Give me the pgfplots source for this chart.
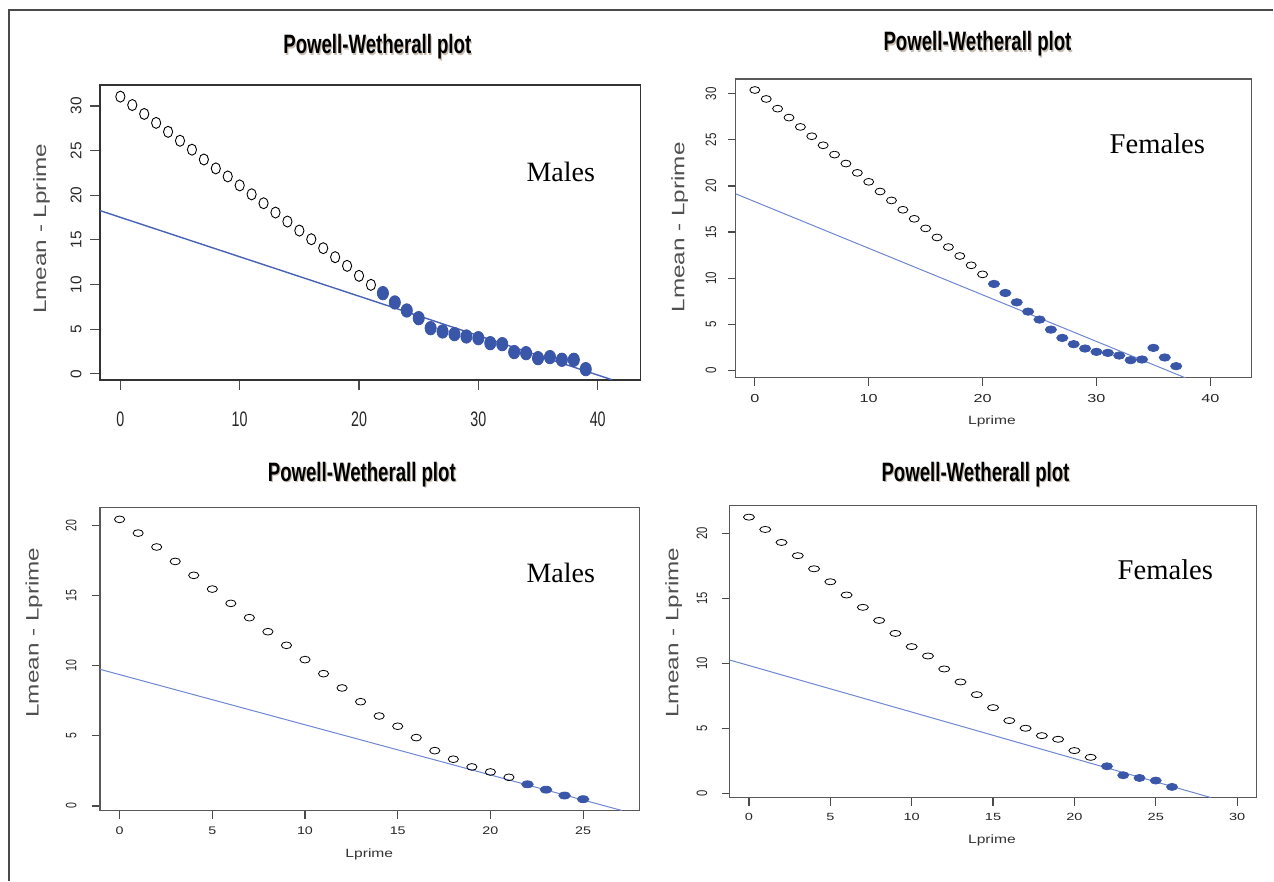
\documentclass[border=0pt]{standalone}
\usepackage{graphicx}
\usepackage{fontspec}
\setmainfont{Liberation Sans}
\newfontfamily\timesfont{Liberation Serif}
\usepackage{pgfplots}
\pgfplotsset{compat=1.18}

\definecolor{ptblue}{HTML}{3A56A8}
\definecolor{fitdark}{HTML}{4862B6}
\definecolor{fitline}{HTML}{6F86D2}
\definecolor{boxgray}{HTML}{4A4A4A}
\definecolor{labgray}{HTML}{505050}

% R-style framed panel; y tick labels run along the axis
\pgfplotsset{
  pw/.style={
    scale only axis,
    anchor=south west,
    axis line style={boxgray, line width=0.6pt},
    tick style={boxgray, line width=0.6pt},
    tick align=outside,
    tick pos=left,
    minor tick num=0,
    clip=true,
    yticklabel style={inner sep=0pt, rotate=90, anchor=south, text=black!85},
    xticklabel style={inner sep=0pt, anchor=north, text=black!85},
  },
}

\newcommand{\pwtitle}[1]{\scalebox{0.7}[1]{\fontsize{13.3}{15}\selectfont\bfseries\color{#1}Powell-Wetherall plot}}
\newcommand{\ylab}{\scalebox{1.35}[1]{\fontsize{9}{10}\selectfont Lmean - Lprime}}
\newcommand{\xlab}{\scalebox{1.3}[1]{\fontsize{6}{7}\selectfont Lprime}}

\begin{document}
\begin{tikzpicture}
\path (0pt,0pt) rectangle (637pt,440.5pt);
\draw[boxgray, line width=0.7pt] (4.5pt,0pt) -- (4.5pt,435.5pt) -- (637pt,435.5pt);

% ---------- Males, upper panel ----------
\begin{axis}[pw, at={(50pt,250.5pt)}, width=270.5pt, height=147.5pt,
  xmin=-1.71, xmax=43.6, ymin=-0.67, ymax=32.35,
  xtick={0,10,20,30,40}, ytick={0,5,10,15,20,25,30},
  major tick length=5pt,
  axis line style={black!80, line width=0.75pt},
  xticklabel={\scalebox{0.68}[1]{\fontsize{10.5}{12}\selectfont\pgfmathprintnumber[assume math mode=true]{\tick}}},
  yticklabel={\fontsize{7.7}{9}\selectfont\pgfmathprintnumber[assume math mode=true]{\tick}},
  xticklabel style={yshift=-11pt},
  yticklabel style={yshift=4pt},
]
\addplot[fitdark, line width=0.7pt] coordinates {(-1.71,18.28) (41.2,-0.67)};
\addplot[only marks, mark=o, mark size=2.3pt, mark options={black, line width=0.45pt, yscale=1.2}] coordinates {
(0,31.04) (1,30.10) (2,29.10) (3,28.10) (4,27.10) (5,26.10) (6,25.10) (7,24.00)
(8,23.00) (9,22.10) (10,21.10) (11,20.10) (12,19.10) (13,18.06) (14,17.05) (15,16.04)
(16,15.07) (17,14.07) (18,13.06) (19,12.09) (20,10.97) (21,9.96)};
\addplot[only marks, mark=*, mark size=2.8pt, mark options={ptblue, fill=ptblue, yscale=1.2}] coordinates {
(22,9.03) (23,7.99) (24,7.09) (25,6.23) (26,5.11) (27,4.74) (28,4.44) (29,4.18)
(30,3.99) (31,3.43) (32,3.32) (33,2.43) (34,2.31) (35,1.75) (36,1.87) (37,1.57)
(38,1.57) (39,0.52)};
\end{axis}

% ---------- Females, upper panel ----------
\begin{axis}[pw, at={(368pt,251.5pt)}, width=258pt, height=149.5pt,
  xmin=-1.69, xmax=43.6, ymin=-0.79, ymax=31.6,
  xtick={0,10,20,30,40}, ytick={0,5,10,15,20,25,30},
  major tick length=4pt,
  axis line style={black!65},
  xticklabel={\scalebox{1.4}[1]{\fontsize{5.8}{7}\selectfont\pgfmathprintnumber[assume math mode=true]{\tick}}},
  yticklabel={\scalebox{0.77}[1]{\fontsize{7.5}{8}\selectfont\pgfmathprintnumber[assume math mode=true]{\tick}}},
  xticklabel style={yshift=-4pt},
  yticklabel style={yshift=5.5pt},
]
\addplot[fitline, line width=0.5pt] coordinates {(-1.69,19.15) (37.8,-0.79)};
\addplot[only marks, mark=o, mark size=2.5pt, mark options={black, line width=0.4pt, yscale=0.68}] coordinates {
(0,30.40) (1,29.43) (2,28.38) (3,27.41) (4,26.40) (5,25.39) (6,24.41) (7,23.40)
(8,22.43) (9,21.42) (10,20.45) (11,19.40) (12,18.43) (13,17.42) (14,16.44) (15,15.40)
(16,14.42) (17,13.38) (18,12.41) (19,11.40) (20,10.42)};
\addplot[only marks, mark=*, mark size=2.8pt, mark options={ptblue, fill=ptblue, yscale=0.66}] coordinates {
(21,9.38) (22,8.40) (23,7.39) (24,6.38) (25,5.52) (26,4.43) (27,3.53) (28,2.85)
(29,2.38) (30,2.02) (31,1.91) (32,1.62) (33,1.12) (34,1.19) (35,2.45) (36,1.41)
(37,0.47)};
\end{axis}

% ---------- Males, lower panel ----------
\begin{axis}[pw, at={(50pt,35pt)}, width=270pt, height=151.5pt,
  xmin=-1.06, xmax=28.05, ymin=-0.33, ymax=21.26,
  xtick={0,5,10,15,20,25}, ytick={0,5,10,15,20},
  major tick length=4pt,
  axis line style={black!65},
  xticklabel={\scalebox{1.3}[1]{\fontsize{5.5}{7}\selectfont\pgfmathprintnumber[assume math mode=true]{\tick}}},
  yticklabel={\scalebox{0.7}[1]{\fontsize{7.5}{8}\selectfont\pgfmathprintnumber[assume math mode=true]{\tick}}},
  xticklabel style={yshift=-4pt},
  yticklabel style={yshift=7.5pt},
]
\addplot[fitline, line width=0.5pt] coordinates {(-1.06,9.74) (27.1,-0.33)};
\addplot[only marks, mark=o, mark size=2.55pt, mark options={black, line width=0.4pt, yscale=0.66}] coordinates {
(0,20.43) (1,19.45) (2,18.46) (3,17.43) (4,16.44) (5,15.46) (6,14.44) (7,13.42)
(8,12.42) (9,11.45) (10,10.43) (11,9.43) (12,8.41) (13,7.43) (14,6.41) (15,5.68)
(16,4.87) (17,3.94) (18,3.33) (19,2.78) (20,2.42) (21,2.04)};
\addplot[only marks, mark=*, mark size=2.9pt, mark options={ptblue, fill=ptblue, yscale=0.6}] coordinates {
(22,1.54) (23,1.16) (24,0.74) (25,0.48)};
\end{axis}

% ---------- Females, lower panel ----------
\begin{axis}[pw, at={(365pt,41.5pt)}, width=263.5pt, height=146pt,
  xmin=-1.19, xmax=31.18, ymin=-0.33, ymax=22.16,
  xtick={0,5,10,15,20,25,30}, ytick={0,5,10,15,20},
  major tick length=4pt,
  axis line style={black!65},
  xticklabel={\scalebox{1.4}[1]{\fontsize{5.2}{7}\selectfont\pgfmathprintnumber[assume math mode=true]{\tick}}},
  yticklabel={\scalebox{0.75}[1]{\fontsize{7.5}{8}\selectfont\pgfmathprintnumber[assume math mode=true]{\tick}}},
  xticklabel style={yshift=-3.5pt},
  yticklabel style={yshift=7pt},
]
\addplot[fitline, line width=0.5pt] coordinates {(-1.19,10.27) (28.38,-0.33)};
\addplot[only marks, mark=o, mark size=2.75pt, mark options={black, line width=0.4pt, yscale=0.55}] coordinates {
(0,21.28) (1,20.33) (2,19.33) (3,18.31) (4,17.30) (5,16.30) (6,15.28) (7,14.33)
(8,13.32) (9,12.32) (10,11.30) (11,10.58) (12,9.58) (13,8.58) (14,7.60) (15,6.60)
(16,5.60) (17,5.01) (18,4.44) (19,4.16) (20,3.29) (21,2.77)};
\addplot[only marks, mark=*, mark size=2.75pt, mark options={ptblue, fill=ptblue, yscale=0.64}] coordinates {
(22,2.08) (23,1.39) (24,1.18) (25,0.98) (26,0.49)};
\end{axis}

% titles (with soft shadow)
\foreach \tx/\ty in {188.75/413.5, 489/415, 181/199.5, 488/199.5}{
  \node[anchor=base, opacity=0.35] at (\tx pt+0.6pt, \ty pt-0.6pt) {\pwtitle{brown!50!black}};
  \node[anchor=base] at (\tx pt, \ty pt) {\pwtitle{black}};
}

% axis titles
\node[rotate=90, text=labgray] at (20.75pt,326pt) {\ylab};
\node[rotate=90, text=labgray] at (340pt,326.75pt) {\ylab};
\node[rotate=90, text=labgray] at (17pt,124pt) {\ylab};
\node[rotate=90, text=labgray] at (337pt,124pt) {\ylab};
\node[text=black!80] at (496.25pt,229.5pt) {\xlab};
\node[text=black!80] at (184.75pt,13.25pt) {\xlab};
\node[text=black!80] at (496.25pt,20.25pt) {\xlab};

% group labels
\node[anchor=base, font=\timesfont\fontsize{14}{16}\selectfont] at (280.5pt,349.5pt) {Males};
\node[anchor=base, font=\timesfont\fontsize{14.3}{16}\selectfont] at (579pt,363.5pt) {Females};
\node[anchor=base, font=\timesfont\fontsize{14}{16}\selectfont] at (280.5pt,149pt) {Males};
\node[anchor=base, font=\timesfont\fontsize{14.3}{16}\selectfont] at (583pt,150.5pt) {Females};
\end{tikzpicture}
\end{document}
